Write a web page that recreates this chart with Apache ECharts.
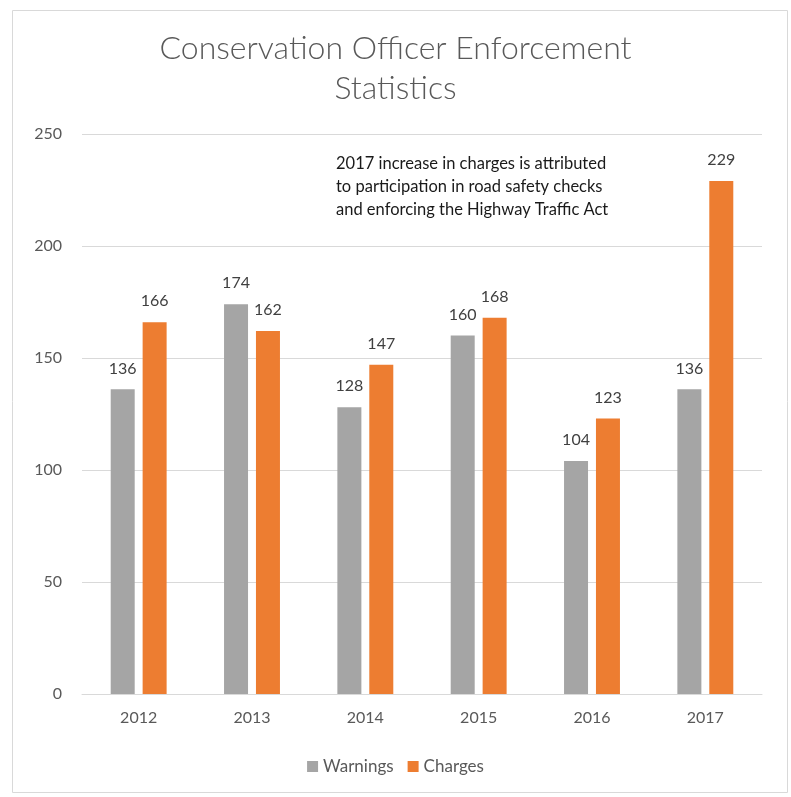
<!DOCTYPE html>
<html><head><meta charset="utf-8">
<script src="https://cdn.jsdelivr.net/npm/echarts@6/dist/echarts.min.js"></script>
<style>html,body{margin:0;padding:0;background:#fff}#c{width:791px;height:797px}</style>
</head><body><div id="c"></div>
<script>
const years = ['2012','2013','2014','2015','2016','2017'];
const warnings = [136,174,128,160,104,136];
const charges = [166,162,147,168,123,229];
const yTicks = [0,50,100,150,200,250];
const titleText = 'Conservation Officer Enforcement\nStatistics';
const noteLines = ['2017 increase in charges is attributed','to participation in road safety checks','and enforcing the Highway Traffic Act'];

const FONT = "Lato, 'Open Sans', sans-serif";
const chart = echarts.init(document.getElementById('c'));
const lbl = {show:true, position:'top', distance:13, color:'#404040', fontSize:16, fontFamily:FONT};
chart.setOption({
  animation:false,
  title:{text:titleText, left:'center', top:24, textStyle:{fontFamily:FONT, fontWeight:300, fontSize:32, color:'#595959', lineHeight:40}},
  legend:{bottom:17, left:'center', itemWidth:11, itemHeight:11, itemGap:14, textStyle:{fontFamily:FONT, fontSize:17, color:'#595959'}, icon:'rect', data:['Warnings','Charges']},
  grid:{left:82, right:29, top:134, bottom:103},
  xAxis:{type:'category', data:years, axisTick:{show:false}, axisLine:{lineStyle:{color:'#d9d9d9'}}, axisLabel:{color:'#595959', fontSize:16, fontFamily:FONT, margin:16}},
  yAxis:{type:'value', min:yTicks[0], max:yTicks[yTicks.length-1], interval:50, axisLabel:{color:'#595959', fontSize:16, fontFamily:FONT, margin:20}, splitLine:{lineStyle:{color:'#d9d9d9'}}, axisLine:{show:false}, axisTick:{show:false}},
  series:[
    {name:'Warnings', type:'bar', data:warnings, barWidth:24, barGap:'33%', itemStyle:{color:'#A5A5A5'}, label:lbl},
    {name:'Charges', type:'bar', data:charges, barWidth:24, itemStyle:{color:'#ED7D31'}, label:lbl}
  ],
  graphic:[
    {type:'rect', left:10, top:8, shape:{width:775, height:782}, style:{fill:null, stroke:'#d9d9d9', lineWidth:1}, silent:true},
    {type:'text', left:336, top:152, style:{text:noteLines.join('\n'), font:"16.5px "+FONT, fill:'#1a1a1a', lineHeight:23}}
  ]
});
</script></body></html>
